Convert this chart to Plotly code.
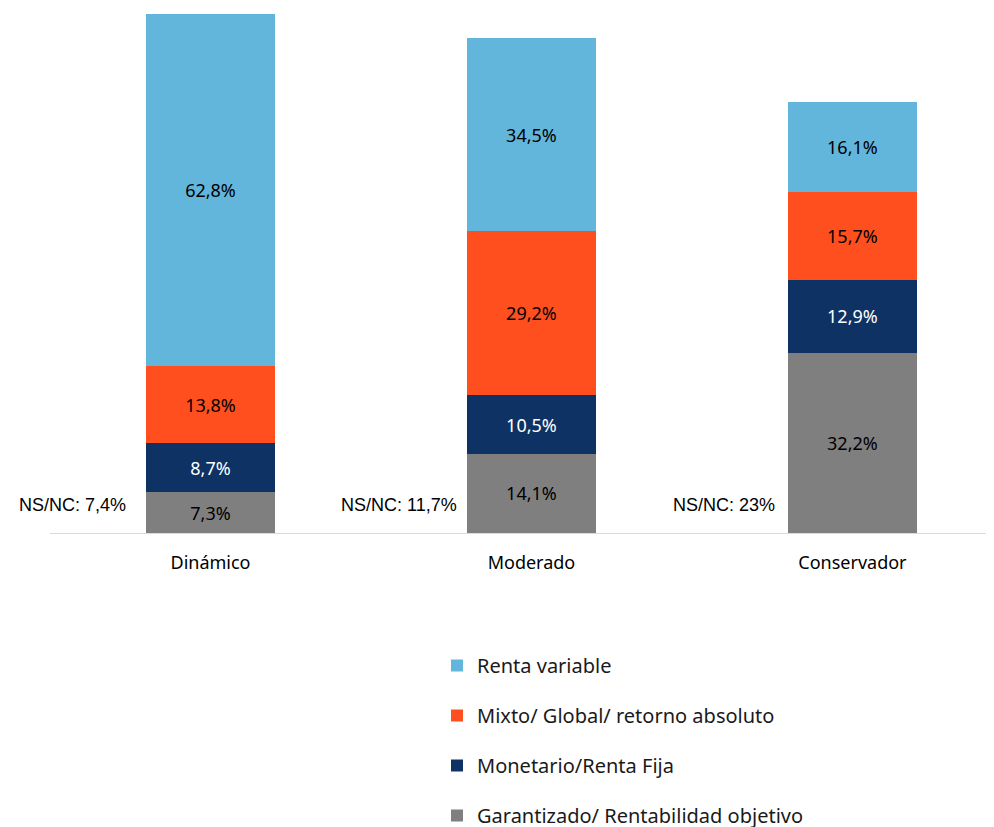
import plotly.graph_objects as go

categories = ["Dinámico", "Moderado", "Conservador"]
garantizado = [7.3, 14.1, 32.2]
monetario = [8.7, 10.5, 12.9]
mixto = [13.8, 29.2, 15.7]
renta_variable = [62.8, 34.5, 16.1]
nsnc_labels = ["NS/NC: 7,4%", "NS/NC: 11,7%", "NS/NC: 23%"]

series = [
    ("Garantizado/ Rentabilidad objetivo", garantizado, "#7F7F7F", "black", 4),
    ("Monetario/Renta Fija", monetario, "#0E3263", "white", 3),
    ("Mixto/ Global/ retorno absoluto", mixto, "#FF4F1F", "black", 2),
    ("Renta variable", renta_variable, "#62B6DC", "black", 1),
]

def fmt(v):
    return f"{v:.1f}".replace(".", ",") + "%"

fig = go.Figure()
for i, (name, vals, color, tcolor, rank) in enumerate(series):
    fig.add_trace(go.Bar(
        name=name, x=categories, y=vals, marker_color=color,
        marker_line_width=0, width=0.4,
        text=[fmt(v) for v in vals], textposition="inside",
        insidetextanchor="middle", textangle=0,
        textfont=dict(family="Noto Sans", size=18, color=tcolor),
        legendgroup=f"g{i}", legendrank=rank,
    ))

gap_px = [19, 9, 12]
for i, lab in enumerate(nsnc_labels):
    fig.add_annotation(x=i - 0.2, y=5.0, text=lab, showarrow=False,
                       xanchor="right", yanchor="middle", xshift=-gap_px[i] + 1,
                       font=dict(family="Liberation Sans, Arial", size=18, color="black"))

fig.update_layout(
    barmode="stack",
    width=994, height=827,
    margin=dict(l=42, r=0, t=0, b=302, autoexpand=False),
    paper_bgcolor="white", plot_bgcolor="white",
    showlegend=True,
    uniformtext=dict(minsize=18, mode="show"),
    legend=dict(
        traceorder="grouped", tracegroupgap=21,
        x=(429 - 42) / 952, y=-(638 - 525) / 525, xanchor="left", yanchor="top",
        font=dict(family="Noto Sans", size=20, color="#1a1a1a"),
        itemwidth=30,
    ),
    xaxis=dict(
        range=[-0.5, 2.466], showline=True, linecolor="#D9D9D9", linewidth=1,
        showgrid=False, ticks="", ticklabelstandoff=13, tickangle=0,
        tickfont=dict(family="Noto Sans", size=18, color="black"),
    ),
    yaxis=dict(range=[0, 93.67], visible=False, showgrid=False),
)

fig.write_html("out.html")
